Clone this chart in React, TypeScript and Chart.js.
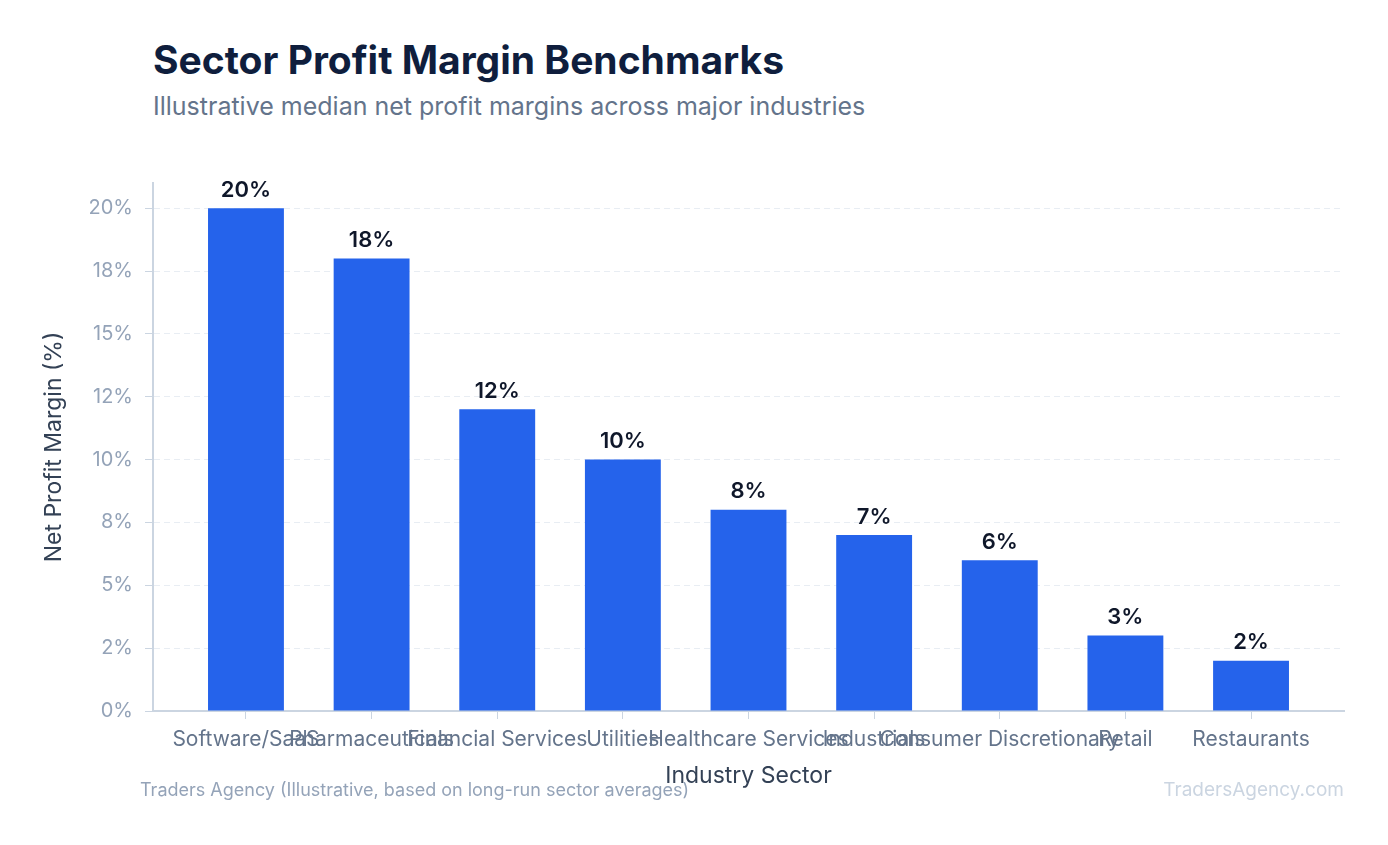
import React, { useEffect, useRef } from "react";
import { Chart, registerables } from "chart.js";

Chart.register(...registerables);

const categories = [
  "Software/SaaS",
  "Pharmaceuticals",
  "Financial Services",
  "Utilities",
  "Healthcare Services",
  "Industrials",
  "Consumer Discretionary",
  "Retail",
  "Restaurants",
];
const margins = [20, 18, 12, 10, 8, 7, 6, 3, 2];
const yTickValues = [0, 2.5, 5, 7.5, 10, 12.5, 15, 17.5, 20];
const yTickLabels = ["0%", "2%", "5%", "8%", "10%", "12%", "15%", "18%", "20%"];

const FONT = "Inter, 'Noto Sans', sans-serif";

const valueLabelPlugin = {
  id: "valueLabels",
  afterDatasetsDraw(chart: any) {
    const { ctx } = chart;
    const meta = chart.getDatasetMeta(0);
    ctx.save();
    ctx.font = `600 22px ${FONT}`;
    ctx.fillStyle = "#0f172a";
    ctx.textAlign = "center";
    ctx.textBaseline = "bottom";
    meta.data.forEach((bar: any, i: number) => {
      ctx.fillText(`${margins[i]}%`, bar.x, bar.y - 7);
    });
    ctx.restore();
  },
};

export default function App() {
  const ref = useRef<HTMLCanvasElement | null>(null);

  useEffect(() => {
    if (!ref.current) return;
    const chart = new Chart(ref.current, {
      type: "bar",
      data: {
        datasets: [
          {
            data: margins.map((v, i) => ({ x: i, y: v })),
            backgroundColor: "#2563eb",
            borderWidth: 0,
            barPercentage: 0.604,
            categoryPercentage: 1,
          },
        ],
      },
      options: {
        animation: false,
        responsive: false,
        devicePixelRatio: 1,
        layout: { padding: { left: 30, right: 44, top: 43, bottom: 55 } },
        plugins: {
          legend: { display: false },
          tooltip: { enabled: false },
          title: { display: false },
        },
        scales: {
          x: {
            type: "linear",
            min: -0.74,
            max: categories.length - 1 + 0.74,
            offset: false,
            afterBuildTicks(scale: any) {
              scale.ticks = categories.map((_, i) => ({ value: i }));
            },
            grid: {
              offset: false,
              drawOnChartArea: false,
              drawTicks: true,
              tickLength: 8,
              color: "#cbd5e1",
            },
            border: { color: "#cbd5e1", width: 2 },
            ticks: {
              autoSkip: false,
              maxRotation: 0,
              minRotation: 0,
              padding: 8,
              color: "#64748b",
              font: { family: FONT, size: 21 },
              callback: (value: any) => categories[Math.round(Number(value))] ?? "",
            },
            title: {
              display: true,
              text: "Industry Sector",
              color: "#334155",
              font: { family: FONT, size: 23 },
              padding: { top: 0, bottom: 0 },
            },
            afterFit(scale: any) {
              scale.height = 79;
            },
          },
          y: {
            min: 0,
            max: 21,
            afterBuildTicks(scale: any) {
              scale.ticks = yTickValues.map((v) => ({ value: v }));
            },
            grid: {
              color: "#e8edf3",
              tickColor: "#cbd5e1",
              tickBorderDash: [],
              tickLength: 8,
              drawTicks: true,
            },
            border: { color: "#cbd5e1", width: 2, dash: [6, 4] },
            ticks: {
              padding: 12,
              color: "#94a3b8",
              font: { family: FONT, size: 20 },
              callback: (value: any) => {
                const idx = yTickValues.indexOf(Number(value));
                return idx >= 0 ? yTickLabels[idx] : "";
              },
            },
            title: {
              display: true,
              text: "Net Profit Margin (%)",
              color: "#334155",
              font: { family: FONT, size: 23 },
              padding: { top: 10, bottom: 0 },
            },
            afterFit(scale: any) {
              scale.width = 123;
            },
          },
        },
      },
      plugins: [valueLabelPlugin],
    } as any);
    return () => chart.destroy();
  }, []);

  return (
    <div
      style={{
        position: "absolute",
        left: 0,
        top: 0,
        width: 1388,
        height: 845,
        background: "#ffffff",
        fontFamily: FONT,
        overflow: "hidden",
      }}
    >
      <div
        style={{
          position: "absolute",
          left: 153,
          top: 36,
          fontSize: 39,
          fontWeight: 700,
          color: "#0f1e3d",
          whiteSpace: "nowrap",
          lineHeight: "48px",
        }}
      >
        Sector Profit Margin Benchmarks
      </div>
      <div
        style={{
          position: "absolute",
          left: 153,
          top: 90,
          fontSize: 25,
          color: "#64748b",
          whiteSpace: "nowrap",
          lineHeight: "32px",
        }}
      >
        Illustrative median net profit margins across major industries
      </div>
      <canvas
        ref={ref}
        width={1388}
        height={705}
        style={{ position: "absolute", left: 0, top: 140, width: 1388, height: 705 }}
      />
      <div
        style={{
          position: "absolute",
          left: 140,
          top: 778,
          fontSize: 18,
          color: "#94a3b8",
          whiteSpace: "nowrap",
          lineHeight: "24px",
        }}
      >
        Traders Agency (Illustrative, based on long-run sector averages)
      </div>
      <div
        style={{
          position: "absolute",
          right: 44,
          top: 778,
          fontSize: 19,
          color: "#cbd5e1",
          whiteSpace: "nowrap",
          lineHeight: "24px",
        }}
      >
        TradersAgency.com
      </div>
    </div>
  );
}
